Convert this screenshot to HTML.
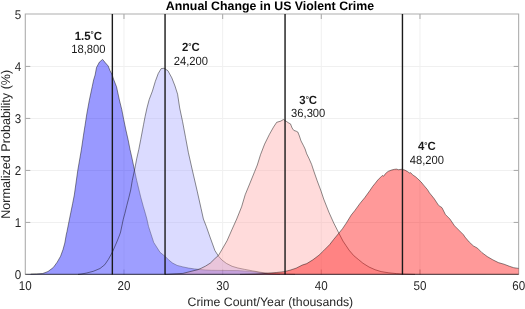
<!DOCTYPE html>
<html><head><meta charset="utf-8"><style>
html,body{margin:0;padding:0;background:#fff;}
svg{display:block;will-change:transform;text-rendering:geometricPrecision;font-family:"Liberation Sans",sans-serif;}
</style></head><body>
<svg width="525" height="309" viewBox="0 0 525 309">
<rect width="525" height="309" fill="#fff"/>
<g stroke="#f0f0f0" stroke-width="1"><line x1="123.97" y1="14.0" x2="123.97" y2="274.45"/><line x1="222.64" y1="14.0" x2="222.64" y2="274.45"/><line x1="321.31" y1="14.0" x2="321.31" y2="274.45"/><line x1="419.98" y1="14.0" x2="419.98" y2="274.45"/><line x1="25.3" y1="222.45" x2="518.65" y2="222.45"/><line x1="25.3" y1="170.45" x2="518.65" y2="170.45"/><line x1="25.3" y1="118.45" x2="518.65" y2="118.45"/><line x1="25.3" y1="66.45" x2="518.65" y2="66.45"/></g>
<g stroke="#adadad" stroke-width="1.1" fill="none">
<path d="M25.3,274.45 V14.0 H518.65 V274.45"/>
<line x1="123.97" y1="274.45" x2="123.97" y2="269.45"/><line x1="123.97" y1="14.0" x2="123.97" y2="19.0"/><line x1="222.64" y1="274.45" x2="222.64" y2="269.45"/><line x1="222.64" y1="14.0" x2="222.64" y2="19.0"/><line x1="321.31" y1="274.45" x2="321.31" y2="269.45"/><line x1="321.31" y1="14.0" x2="321.31" y2="19.0"/><line x1="419.98" y1="274.45" x2="419.98" y2="269.45"/><line x1="419.98" y1="14.0" x2="419.98" y2="19.0"/><line x1="25.3" y1="222.45" x2="30.3" y2="222.45"/><line x1="518.65" y1="222.45" x2="513.65" y2="222.45"/><line x1="25.3" y1="170.45" x2="30.3" y2="170.45"/><line x1="518.65" y1="170.45" x2="513.65" y2="170.45"/><line x1="25.3" y1="118.45" x2="30.3" y2="118.45"/><line x1="518.65" y1="118.45" x2="513.65" y2="118.45"/><line x1="25.3" y1="66.45" x2="30.3" y2="66.45"/><line x1="518.65" y1="66.45" x2="513.65" y2="66.45"/>
</g>
<g stroke="#000" stroke-opacity="0.6" stroke-width="0.75" stroke-linejoin="round">
<polygon points="25.3,274.4 30.7,274.1 36.4,273.9 42.7,273.5 48.0,271.5 53.3,267.5 57.2,262.2 60.6,256.2 63.0,249.6 64.8,243.0 66.2,235.0 67.0,231.4 68.9,221.9 70.8,212.5 72.6,203.7 74.3,195.0 77.8,170.2 81.3,150.0 83.5,135.1 85.0,125.6 86.8,113.9 89.3,100.3 92.2,86.7 93.6,80.0 95.1,75.0 96.5,67.5 99.4,62.1 102.6,59.4 105.2,62.6 108.2,66.0 110.1,70.9 112.0,74.3 113.5,79.1 116.5,86.7 119.4,100.0 121.8,109.7 123.7,119.4 125.7,129.1 128.1,139.7 130.0,149.4 132.0,158.2 134.5,170.2 136.7,180.4 139.0,190.0 140.9,197.8 143.3,206.5 145.3,213.3 146.9,219.1 148.5,226.4 153.7,242.4 160.0,252.3 165.7,256.9 169.1,260.3 172.6,263.1 177.1,265.4 182.9,266.9 188.6,268.1 194.3,268.9 198.9,269.4 205.7,270.0 211.4,270.3 220.0,270.4 237.9,270.6 249.3,271.4 255.0,271.9 261.1,272.8 265.7,273.6 270.0,274.0 280.0,274.3 518.6,274.4" fill="rgb(0,0,255)" fill-opacity="0.4" stroke="none"/><polyline points="30.7,274.1 36.4,273.9 42.7,273.5 48.0,271.5 53.3,267.5 57.2,262.2 60.6,256.2 63.0,249.6 64.8,243.0 66.2,235.0 67.0,231.4 68.9,221.9 70.8,212.5 72.6,203.7 74.3,195.0 77.8,170.2 81.3,150.0 83.5,135.1 85.0,125.6 86.8,113.9 89.3,100.3 92.2,86.7 93.6,80.0 95.1,75.0 96.5,67.5 99.4,62.1 102.6,59.4 105.2,62.6 108.2,66.0 110.1,70.9 112.0,74.3 113.5,79.1 116.5,86.7 119.4,100.0 121.8,109.7 123.7,119.4 125.7,129.1 128.1,139.7 130.0,149.4 132.0,158.2 134.5,170.2 136.7,180.4 139.0,190.0 140.9,197.8 143.3,206.5 145.3,213.3 146.9,219.1 148.5,226.4 153.7,242.4 160.0,252.3 165.7,256.9 169.1,260.3 172.6,263.1 177.1,265.4 182.9,266.9 188.6,268.1 194.3,268.9 198.9,269.4 205.7,270.0 211.4,270.3 220.0,270.4 237.9,270.6 249.3,271.4 255.0,271.9 261.1,272.8 265.7,273.6 270.0,274.0 280.0,274.3" fill="none"/>
<polygon points="25.3,274.4 78.0,274.4 81.0,274.1 86.7,273.0 93.3,271.3 100.0,268.5 104.8,264.7 108.4,259.4 112.6,251.7 116.8,242.0 119.6,235.0 120.6,232.0 123.3,219.1 124.9,213.3 126.8,205.5 128.8,197.8 130.7,190.0 132.3,180.4 134.5,170.2 136.8,158.2 138.8,149.4 140.7,139.7 142.7,129.1 143.6,124.3 145.1,116.5 147.0,107.8 149.2,99.5 152.4,91.1 155.3,81.4 158.2,73.6 161.1,68.7 164.0,68.2 167.9,70.7 171.8,77.8 175.0,86.0 177.6,94.2 179.7,108.0 182.6,121.7 185.5,137.2 188.4,152.7 192.3,170.0 197.2,191.1 201.1,208.6 203.4,219.0 206.3,226.4 210.0,237.0 214.9,250.5 218.5,256.2 221.9,260.0 226.4,263.4 232.1,266.3 237.9,268.0 244.7,269.4 252.7,270.9 260.7,272.3 267.6,273.1 280.0,273.8 295.0,274.3 518.6,274.4" fill="rgb(166,166,255)" fill-opacity="0.4" stroke="none"/><polyline points="78.0,274.4 81.0,274.1 86.7,273.0 93.3,271.3 100.0,268.5 104.8,264.7 108.4,259.4 112.6,251.7 116.8,242.0 119.6,235.0 120.6,232.0 123.3,219.1 124.9,213.3 126.8,205.5 128.8,197.8 130.7,190.0 132.3,180.4 134.5,170.2 136.8,158.2 138.8,149.4 140.7,139.7 142.7,129.1 143.6,124.3 145.1,116.5 147.0,107.8 149.2,99.5 152.4,91.1 155.3,81.4 158.2,73.6 161.1,68.7 164.0,68.2 167.9,70.7 171.8,77.8 175.0,86.0 177.6,94.2 179.7,108.0 182.6,121.7 185.5,137.2 188.4,152.7 192.3,170.0 197.2,191.1 201.1,208.6 203.4,219.0 206.3,226.4 210.0,237.0 214.9,250.5 218.5,256.2 221.9,260.0 226.4,263.4 232.1,266.3 237.9,268.0 244.7,269.4 252.7,270.9 260.7,272.3 267.6,273.1 280.0,273.8 295.0,274.3" fill="none"/>
<polygon points="25.3,274.4 165.0,274.4 169.1,274.2 182.9,273.4 192.0,271.1 197.7,269.7 201.1,268.3 205.7,266.0 210.3,263.1 214.9,258.6 218.5,255.4 222.1,249.3 227.0,240.8 231.8,229.9 236.7,219.0 241.6,206.8 245.2,194.7 249.2,185.0 254.6,171.7 257.3,165.0 260.5,154.7 264.6,144.1 269.4,134.4 273.5,127.1 276.7,122.3 280.8,121.1 283.4,119.5 286.5,121.5 288.9,123.1 290.5,123.9 292.1,128.0 293.8,130.4 296.2,131.2 297.8,132.0 299.4,136.0 301.0,140.9 303.5,145.7 305.1,149.0 306.7,153.8 309.1,158.7 311.6,164.4 313.6,170.5 317.2,180.8 321.1,191.2 323.7,199.0 328.9,212.2 333.7,222.9 338.6,232.6 343.0,241.1 346.1,245.7 349.1,250.2 353.7,255.6 358.3,259.4 362.9,263.2 369.0,267.0 375.0,269.7 381.1,271.6 388.8,272.8 396.4,273.6 402.5,274.0 415.0,274.4 518.6,274.4" fill="rgb(255,166,166)" fill-opacity="0.4" stroke="none"/><polyline points="165.0,274.4 169.1,274.2 182.9,273.4 192.0,271.1 197.7,269.7 201.1,268.3 205.7,266.0 210.3,263.1 214.9,258.6 218.5,255.4 222.1,249.3 227.0,240.8 231.8,229.9 236.7,219.0 241.6,206.8 245.2,194.7 249.2,185.0 254.6,171.7 257.3,165.0 260.5,154.7 264.6,144.1 269.4,134.4 273.5,127.1 276.7,122.3 280.8,121.1 283.4,119.5 286.5,121.5 288.9,123.1 290.5,123.9 292.1,128.0 293.8,130.4 296.2,131.2 297.8,132.0 299.4,136.0 301.0,140.9 303.5,145.7 305.1,149.0 306.7,153.8 309.1,158.7 311.6,164.4 313.6,170.5 317.2,180.8 321.1,191.2 323.7,199.0 328.9,212.2 333.7,222.9 338.6,232.6 343.0,241.1 346.1,245.7 349.1,250.2 353.7,255.6 358.3,259.4 362.9,263.2 369.0,267.0 375.0,269.7 381.1,271.6 388.8,272.8 396.4,273.6 402.5,274.0 415.0,274.4" fill="none"/>
<polygon points="25.3,274.4 240.0,274.4 255.0,274.1 261.1,273.8 268.7,273.2 276.3,272.5 284.0,271.7 290.0,270.2 296.1,268.2 302.2,265.1 306.8,263.6 312.9,259.8 319.0,255.2 323.6,250.7 329.7,244.6 333.7,239.4 338.6,233.5 342.5,228.7 346.4,222.9 351.2,215.1 355.1,210.2 360.0,203.4 364.8,197.6 369.7,190.8 372.6,186.5 375.2,183.3 377.8,180.0 381.0,176.8 382.3,175.5 383.6,176.2 385.5,173.6 388.1,171.4 391.3,170.1 394.6,169.3 396.5,169.1 398.4,169.7 401.7,169.3 404.9,170.1 407.5,171.6 409.4,172.9 410.7,172.7 412.7,174.9 415.3,176.6 417.8,178.8 421.1,182.0 424.3,185.9 427.5,189.7 429.5,192.9 434.1,198.6 438.6,205.4 442.0,207.7 445.4,214.5 449.9,219.0 454.5,225.8 459.0,230.3 463.5,234.8 465.0,237.1 469.2,242.0 473.4,245.9 477.5,248.2 481.7,252.4 487.3,256.6 492.8,259.8 498.4,262.6 504.0,264.2 509.5,266.3 513.7,267.7 518.6,268.4 518.6,274.4" fill="rgb(255,0,0)" fill-opacity="0.4" stroke="none"/><polyline points="240.0,274.4 255.0,274.1 261.1,273.8 268.7,273.2 276.3,272.5 284.0,271.7 290.0,270.2 296.1,268.2 302.2,265.1 306.8,263.6 312.9,259.8 319.0,255.2 323.6,250.7 329.7,244.6 333.7,239.4 338.6,233.5 342.5,228.7 346.4,222.9 351.2,215.1 355.1,210.2 360.0,203.4 364.8,197.6 369.7,190.8 372.6,186.5 375.2,183.3 377.8,180.0 381.0,176.8 382.3,175.5 383.6,176.2 385.5,173.6 388.1,171.4 391.3,170.1 394.6,169.3 396.5,169.1 398.4,169.7 401.7,169.3 404.9,170.1 407.5,171.6 409.4,172.9 410.7,172.7 412.7,174.9 415.3,176.6 417.8,178.8 421.1,182.0 424.3,185.9 427.5,189.7 429.5,192.9 434.1,198.6 438.6,205.4 442.0,207.7 445.4,214.5 449.9,219.0 454.5,225.8 459.0,230.3 463.5,234.8 465.0,237.1 469.2,242.0 473.4,245.9 477.5,248.2 481.7,252.4 487.3,256.6 492.8,259.8 498.4,262.6 504.0,264.2 509.5,266.3 513.7,267.7 518.6,268.4" fill="none"/>
</g>
<g stroke="#1a1a1a" stroke-width="1.4"><line x1="112.35" y1="14.0" x2="112.35" y2="274.45"/><line x1="165.05" y1="14.0" x2="165.05" y2="274.45"/><line x1="285.05" y1="14.0" x2="285.05" y2="274.45"/><line x1="402.45" y1="14.0" x2="402.45" y2="274.45"/></g>
<line x1="25.3" y1="274.45" x2="518.65" y2="274.45" stroke="#000" stroke-opacity="0.6" stroke-width="1.2"/>
<g font-size="11.6" fill="#262626"><text transform="translate(25.30,289.9) scale(1,1.1)" text-anchor="middle">10</text><text transform="translate(123.97,289.9) scale(1,1.1)" text-anchor="middle">20</text><text transform="translate(222.64,289.9) scale(1,1.1)" text-anchor="middle">30</text><text transform="translate(321.31,289.9) scale(1,1.1)" text-anchor="middle">40</text><text transform="translate(419.98,289.9) scale(1,1.1)" text-anchor="middle">50</text><text transform="translate(518.65,289.9) scale(1,1.1)" text-anchor="middle">60</text><text transform="translate(21.3,279.20) scale(1,1.1)" text-anchor="end">0</text><text transform="translate(21.3,227.20) scale(1,1.1)" text-anchor="end">1</text><text transform="translate(21.3,175.20) scale(1,1.1)" text-anchor="end">2</text><text transform="translate(21.3,123.20) scale(1,1.1)" text-anchor="end">3</text><text transform="translate(21.3,71.20) scale(1,1.1)" text-anchor="end">4</text><text transform="translate(21.3,19.20) scale(1,1.1)" text-anchor="end">5</text></g>
<text x="270.0" y="10.0" text-anchor="middle" font-size="12.35" font-weight="bold" fill="#000">Annual Change in US Violent Crime</text>
<text x="270.4" y="305.9" text-anchor="middle" font-size="12.3" fill="#262626">Crime Count/Year (thousands)</text>
<text transform="translate(10.1,144.3) rotate(-90)" text-anchor="middle" font-size="12.6" fill="#262626">Normalized Probability (%)</text>
<g font-size="11" fill="#1a1a1a"><text transform="translate(88.3,39.6) scale(1,1.05)" text-anchor="middle" font-weight="bold" font-size="11.4">1.5<tspan font-size="8" dy="-2.1">&#176;</tspan><tspan dy="2.1">C</tspan></text><text transform="translate(88.3,53.0) scale(1,1.06)" text-anchor="middle" font-size="11.2">18,800</text><text transform="translate(190.8,51.3) scale(1,1.05)" text-anchor="middle" font-weight="bold" font-size="11.4">2<tspan font-size="8" dy="-2.1">&#176;</tspan><tspan dy="2.1">C</tspan></text><text transform="translate(190.8,65.1) scale(1,1.06)" text-anchor="middle" font-size="11.2">24,200</text><text transform="translate(308.2,103.7) scale(1,1.05)" text-anchor="middle" font-weight="bold" font-size="11.4">3<tspan font-size="8" dy="-2.1">&#176;</tspan><tspan dy="2.1">C</tspan></text><text transform="translate(308.2,117.2) scale(1,1.06)" text-anchor="middle" font-size="11.2">36,300</text><text transform="translate(426.9,149.9) scale(1,1.05)" text-anchor="middle" font-weight="bold" font-size="11.4">4<tspan font-size="8" dy="-2.1">&#176;</tspan><tspan dy="2.1">C</tspan></text><text transform="translate(426.9,163.5) scale(1,1.06)" text-anchor="middle" font-size="11.2">48,200</text></g>
</svg>
</body></html>
